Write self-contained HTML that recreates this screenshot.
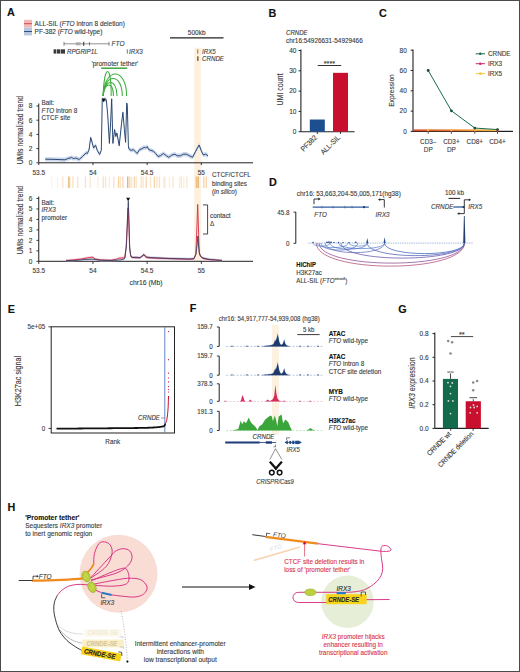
<!DOCTYPE html>
<html><head><meta charset="utf-8"><style>
html,body{margin:0;padding:0;background:#fff;}
body{width:520px;height:672px;overflow:hidden;}
svg{display:block;}
text{font-family:"Liberation Sans",sans-serif;}
</style></head><body>
<svg width="520" height="672" viewBox="0 0 520 672" font-family="Liberation Sans, sans-serif">
<rect x="0" y="0" width="520" height="672" fill="#fff"/>
<text transform="translate(7.00,16.30) scale(1.0000,1)" font-size="10.80" text-anchor="start" font-weight="bold" font-style="normal" fill="#111" stroke="#111" stroke-width="0.12" >A</text>
<rect x="24.00" y="19.80" width="8.00" height="7.80" fill="#f2b9b9" />
<line x1="24.00" y1="23.70" x2="32.00" y2="23.70" stroke="#d24a4a" stroke-width="1.0" />
<rect x="24.00" y="27.60" width="8.00" height="7.80" fill="#b9c6df" />
<line x1="24.00" y1="31.50" x2="32.00" y2="31.50" stroke="#2f4f80" stroke-width="1.0" />
<text transform="translate(34.60,25.80) scale(0.8929,1)" font-size="7.28" text-anchor="start" font-weight="normal" font-style="normal" fill="#3a3a3a" stroke="#3a3a3a" stroke-width="0.12" >ALL-SIL (<tspan font-style="italic">FTO</tspan> intron 8 deletion)</text>
<text transform="translate(34.60,33.80) scale(0.8929,1)" font-size="7.28" text-anchor="start" font-weight="normal" font-style="normal" fill="#3a3a3a" stroke="#3a3a3a" stroke-width="0.12" >PF-382 (<tspan font-style="italic">FTO</tspan> wild-type)</text>
<line x1="64.00" y1="43.80" x2="109.00" y2="43.80" stroke="#777" stroke-width="0.8" />
<line x1="64.00" y1="41.80" x2="64.00" y2="45.80" stroke="#666" stroke-width="0.8" />
<line x1="109.00" y1="41.80" x2="109.00" y2="45.80" stroke="#666" stroke-width="0.8" />
<rect x="75.80" y="42.30" width="4.80" height="3.00" fill="#aaa" />
<rect x="83.00" y="41.80" width="1.30" height="4.00" fill="#555" />
<rect x="89.00" y="42.20" width="0.90" height="3.20" fill="#666" />
<text transform="translate(111.50,46.30) scale(0.8929,1)" font-size="7.39" text-anchor="start" font-weight="normal" font-style="normal" fill="#3a3a3a" stroke="#3a3a3a" stroke-width="0.12" ><tspan font-style="italic">FTO</tspan></text>
<rect x="53.60" y="49.30" width="2.60" height="4.30" fill="#3a3a3a" />
<rect x="56.80" y="49.30" width="3.60" height="4.30" fill="#3a3a3a" />
<rect x="61.00" y="49.30" width="4.00" height="4.30" fill="#3a3a3a" />
<text transform="translate(67.00,54.00) scale(0.8929,1)" font-size="6.94" text-anchor="start" font-weight="normal" font-style="normal" fill="#3a3a3a" stroke="#3a3a3a" stroke-width="0.12" ><tspan font-style="italic">RPGRIP1L</tspan></text>
<line x1="127.30" y1="49.30" x2="127.30" y2="53.60" stroke="#555" stroke-width="0.8" />
<text transform="translate(129.00,54.00) scale(0.8929,1)" font-size="6.94" text-anchor="start" font-weight="normal" font-style="normal" fill="#3a3a3a" stroke="#3a3a3a" stroke-width="0.12" ><tspan font-style="italic">IRX3</tspan></text>
<text transform="translate(91.50,66.00) scale(0.8929,1)" font-size="7.28" text-anchor="start" font-weight="normal" font-style="normal" fill="#3a3a3a" stroke="#3a3a3a" stroke-width="0.12" >'promoter tether'</text>
<line x1="101.20" y1="68.20" x2="127.30" y2="68.20" stroke="#30a030" stroke-width="1.4" />
<path d="M103.1,96 C104.3,63.20 111.2,63.20 111.2,96" stroke="#3fae3f" stroke-width="1.05" fill="none" />
<path d="M103.1,96 C104.3,81.33 113.5,81.33 113.5,96" stroke="#3fae3f" stroke-width="1.05" fill="none" />
<path d="M103.1,96 C104.3,78.00 117,78.00 117,96" stroke="#3fae3f" stroke-width="1.05" fill="none" />
<path d="M103.1,96 C104.3,72.67 122.3,72.67 122.3,96" stroke="#3fae3f" stroke-width="1.05" fill="none" />
<path d="M103.1,96 C104.3,66.67 126.6,66.67 126.6,96" stroke="#3fae3f" stroke-width="1.05" fill="none" />
<text transform="translate(196.70,34.80) scale(0.8929,1)" font-size="7.28" text-anchor="middle" font-weight="normal" font-style="normal" fill="#3a3a3a" stroke="#3a3a3a" stroke-width="0.12" >500kb</text>
<line x1="170.00" y1="37.90" x2="223.50" y2="37.90" stroke="#222" stroke-width="1.1" />
<rect x="194.30" y="47.70" width="6.50" height="213.60" fill="#fdf0dc" />
<rect x="197.00" y="49.40" width="1.30" height="4.30" fill="#b58a5a" />
<rect x="197.00" y="56.30" width="1.60" height="4.60" fill="#8a6a4a" />
<text transform="translate(202.00,53.80) scale(0.8929,1)" font-size="6.94" text-anchor="start" font-weight="normal" font-style="normal" fill="#3a3a3a" stroke="#3a3a3a" stroke-width="0.12" ><tspan font-style="italic">IRX5</tspan></text>
<text transform="translate(202.00,61.00) scale(0.8929,1)" font-size="6.94" text-anchor="start" font-weight="normal" font-style="normal" fill="#3a3a3a" stroke="#3a3a3a" stroke-width="0.12" ><tspan font-style="italic">CRNDE</tspan></text>
<text transform="translate(23.00,130.20) rotate(-90) scale(0.8333,1)" font-size="8.16" text-anchor="middle" fill="#3a3a3a" stroke="#3a3a3a" stroke-width="0.12">UMIs normalized trend</text>
<text transform="translate(23.00,220.20) rotate(-90) scale(0.8333,1)" font-size="8.16" text-anchor="middle" fill="#3a3a3a" stroke="#3a3a3a" stroke-width="0.12">UMIs normalized trend</text>
<line x1="38.75" y1="103.50" x2="38.75" y2="162.80" stroke="#222" stroke-width="1.0" />
<line x1="36.45" y1="162.80" x2="38.75" y2="162.80" stroke="#222" stroke-width="0.9" />
<text transform="translate(32.45,165.10) scale(0.8929,1)" font-size="7.28" text-anchor="end" font-weight="normal" font-style="normal" fill="#3a3a3a" stroke="#3a3a3a" stroke-width="0.12" >0</text>
<line x1="36.45" y1="148.60" x2="38.75" y2="148.60" stroke="#222" stroke-width="0.9" />
<text transform="translate(32.45,150.90) scale(0.8929,1)" font-size="7.28" text-anchor="end" font-weight="normal" font-style="normal" fill="#3a3a3a" stroke="#3a3a3a" stroke-width="0.12" >2</text>
<line x1="36.45" y1="134.40" x2="38.75" y2="134.40" stroke="#222" stroke-width="0.9" />
<text transform="translate(32.45,136.70) scale(0.8929,1)" font-size="7.28" text-anchor="end" font-weight="normal" font-style="normal" fill="#3a3a3a" stroke="#3a3a3a" stroke-width="0.12" >4</text>
<line x1="36.45" y1="120.20" x2="38.75" y2="120.20" stroke="#222" stroke-width="0.9" />
<text transform="translate(32.45,122.50) scale(0.8929,1)" font-size="7.28" text-anchor="end" font-weight="normal" font-style="normal" fill="#3a3a3a" stroke="#3a3a3a" stroke-width="0.12" >6</text>
<line x1="36.45" y1="106.00" x2="38.75" y2="106.00" stroke="#222" stroke-width="0.9" />
<text transform="translate(32.45,108.30) scale(0.8929,1)" font-size="7.28" text-anchor="end" font-weight="normal" font-style="normal" fill="#3a3a3a" stroke="#3a3a3a" stroke-width="0.12" >8</text>
<line x1="38.75" y1="162.80" x2="253.00" y2="162.80" stroke="#222" stroke-width="1.0" />
<line x1="38.75" y1="162.80" x2="38.75" y2="165.10" stroke="#222" stroke-width="0.9" />
<text transform="translate(38.75,174.60) scale(0.8929,1)" font-size="7.28" text-anchor="middle" font-weight="normal" font-style="normal" fill="#3a3a3a" stroke="#3a3a3a" stroke-width="0.12" >53.5</text>
<line x1="92.95" y1="162.80" x2="92.95" y2="165.10" stroke="#222" stroke-width="0.9" />
<text transform="translate(92.95,174.60) scale(0.8929,1)" font-size="7.28" text-anchor="middle" font-weight="normal" font-style="normal" fill="#3a3a3a" stroke="#3a3a3a" stroke-width="0.12" >54</text>
<line x1="147.15" y1="162.80" x2="147.15" y2="165.10" stroke="#222" stroke-width="0.9" />
<text transform="translate(147.15,174.60) scale(0.8929,1)" font-size="7.28" text-anchor="middle" font-weight="normal" font-style="normal" fill="#3a3a3a" stroke="#3a3a3a" stroke-width="0.12" >54.5</text>
<line x1="201.35" y1="162.80" x2="201.35" y2="165.10" stroke="#222" stroke-width="0.9" />
<text transform="translate(201.35,174.60) scale(0.8929,1)" font-size="7.28" text-anchor="middle" font-weight="normal" font-style="normal" fill="#3a3a3a" stroke="#3a3a3a" stroke-width="0.12" >55</text>
<text transform="translate(41.50,104.80) scale(0.8929,1)" font-size="7.17" text-anchor="start" font-weight="normal" font-style="normal" fill="#3a3a3a" stroke="#3a3a3a" stroke-width="0.12" >Bait:</text>
<text transform="translate(41.50,112.50) scale(0.8929,1)" font-size="7.17" text-anchor="start" font-weight="normal" font-style="normal" fill="#3a3a3a" stroke="#3a3a3a" stroke-width="0.12" ><tspan font-style="italic">FTO</tspan> intron 8</text>
<text transform="translate(41.50,120.00) scale(0.8929,1)" font-size="7.17" text-anchor="start" font-weight="normal" font-style="normal" fill="#3a3a3a" stroke="#3a3a3a" stroke-width="0.12" >CTCF site</text>
<path d="M45.20,157.00 L55.00,157.20 L64.80,157.60 L67.70,156.40 L71.70,155.30 L73.40,156.40 L75.80,155.80 L79.20,157.30 L82.70,154.10 L86.10,150.70 L87.30,151.30 L89.00,147.80 L90.70,135.30 L92.10,140.10 L93.60,145.80 L95.60,143.00 L97.30,148.20 L99.60,152.20 L101.30,148.20 L101.90,117.80 L102.20,97.60 L106.30,97.60 L107.70,112.40 L109.40,141.20 L110.60,120.50 L111.70,96.60 L112.90,141.20 L114.60,127.40 L115.80,134.30 L116.90,130.80 L119.20,143.50 L121.50,121.60 L122.90,110.10 L124.40,127.40 L125.60,140.10 L126.70,100.80 L127.30,103.20 L128.40,143.50 L128.80,146.60 L131.10,148.20 L133.40,147.40 L134.90,149.00 L137.20,151.30 L139.50,147.40 L141.80,146.60 L144.20,145.10 L145.70,145.80 L147.20,144.30 L148.80,147.40 L151.10,148.20 L153.40,149.00 L155.70,151.30 L158.00,154.30 L160.30,153.60 L163.40,151.30 L166.50,153.60 L168.80,155.10 L171.80,152.80 L174.90,152.00 L177.20,153.60 L180.30,153.60 L183.40,152.00 L186.50,152.00 L189.50,153.60 L192.60,155.10 L195.70,149.00 L199.10,142.80 L201.80,149.70 L203.40,152.80 L205.70,152.00 L208.00,153.60 L208.00,158.00 L205.70,156.40 L203.40,157.20 L201.80,154.10 L199.10,147.20 L195.70,153.40 L192.60,159.50 L189.50,158.00 L186.50,156.40 L183.40,156.40 L180.30,158.00 L177.20,158.00 L174.90,156.40 L171.80,157.20 L168.80,159.50 L166.50,158.00 L163.40,155.70 L160.30,158.00 L158.00,158.70 L155.70,155.70 L153.40,153.40 L151.10,152.60 L148.80,151.80 L147.20,148.70 L145.70,150.20 L144.20,149.50 L141.80,151.00 L139.50,151.80 L137.20,155.70 L134.90,153.40 L133.40,151.80 L131.10,152.60 L128.80,151.00 L128.40,147.90 L127.30,107.60 L126.70,105.20 L125.60,144.50 L124.40,131.80 L122.90,114.50 L121.50,126.00 L119.20,147.90 L116.90,135.20 L115.80,138.70 L114.60,131.80 L112.90,145.60 L111.70,101.00 L110.60,124.90 L109.40,145.60 L107.70,116.80 L106.30,102.00 L102.20,102.00 L101.90,122.20 L101.30,152.60 L99.60,156.60 L97.30,152.60 L95.60,147.40 L93.60,150.20 L92.10,144.50 L90.70,139.70 L89.00,152.20 L87.30,155.70 L86.10,155.10 L82.70,158.50 L79.20,161.70 L75.80,160.20 L73.40,160.80 L71.70,159.70 L67.70,160.80 L64.80,162.00 L55.00,161.60 L45.20,161.40 Z" stroke="none" stroke-width="1" fill="#c4d4ea" opacity="0.85"/>
<polyline points="45.20,159.20 55.00,159.40 64.80,159.80 67.70,158.60 71.70,157.50 73.40,158.60 75.80,158.00 79.20,159.50 82.70,156.30 86.10,152.90 87.30,153.50 89.00,150.00 90.70,137.50 92.10,142.30 93.60,148.00 95.60,145.20 97.30,150.40 99.60,154.40 101.30,150.40 101.90,120.00 102.20,99.80 106.30,99.80 107.70,114.60 109.40,143.40 110.60,122.70 111.70,98.80 112.90,143.40 114.60,129.60 115.80,136.50 116.90,133.00 119.20,145.70 121.50,123.80 122.90,112.30 124.40,129.60 125.60,142.30 126.70,103.00 127.30,105.40 128.40,145.70 128.80,148.80 131.10,150.40 133.40,149.60 134.90,151.20 137.20,153.50 139.50,149.60 141.80,148.80 144.20,147.30 145.70,148.00 147.20,146.50 148.80,149.60 151.10,150.40 153.40,151.20 155.70,153.50 158.00,156.50 160.30,155.80 163.40,153.50 166.50,155.80 168.80,157.30 171.80,155.00 174.90,154.20 177.20,155.80 180.30,155.80 183.40,154.20 186.50,154.20 189.50,155.80 192.60,157.30 195.70,151.20 199.10,145.00 201.80,151.90 203.40,155.00 205.70,154.20 208.00,155.80" fill="none" stroke="#24406c" stroke-width="0.95" stroke-linejoin="round" />
<path d="M101.4,98.4 L105.8,98.4 L103.6,102.3 Z" stroke="none" stroke-width="1" fill="#111" />
<rect x="51.00" y="176.50" width="1.40" height="11.50" fill="#f0b060" opacity="0.15"/>
<rect x="56.80" y="176.50" width="1.40" height="11.50" fill="#f0b060" opacity="0.15"/>
<rect x="62.10" y="176.50" width="1.40" height="11.50" fill="#f3a87a" opacity="0.30"/>
<rect x="67.90" y="176.50" width="1.40" height="11.50" fill="#d89440" opacity="0.55"/>
<rect x="68.90" y="176.50" width="1.40" height="11.50" fill="#f0b060" opacity="0.50"/>
<rect x="72.20" y="176.50" width="1.40" height="11.50" fill="#f4c46a" opacity="0.45"/>
<rect x="77.00" y="176.50" width="1.40" height="11.50" fill="#d89440" opacity="0.25"/>
<rect x="84.70" y="176.50" width="1.40" height="11.50" fill="#f3a87a" opacity="0.35"/>
<rect x="89.50" y="176.50" width="1.40" height="11.50" fill="#f0b060" opacity="0.30"/>
<rect x="97.20" y="176.50" width="1.40" height="11.50" fill="#f0b060" opacity="0.20"/>
<rect x="102.50" y="176.50" width="1.40" height="11.50" fill="#d89440" opacity="0.25"/>
<rect x="104.90" y="176.50" width="1.40" height="11.50" fill="#f0b060" opacity="0.30"/>
<rect x="108.70" y="176.50" width="1.40" height="11.50" fill="#f0b060" opacity="0.20"/>
<rect x="113.10" y="176.50" width="1.40" height="11.50" fill="#f3a87a" opacity="0.35"/>
<rect x="117.90" y="176.50" width="1.40" height="11.50" fill="#f0b060" opacity="0.55"/>
<rect x="119.80" y="176.50" width="1.40" height="11.50" fill="#f4c46a" opacity="0.40"/>
<rect x="122.20" y="176.50" width="1.40" height="11.50" fill="#f3a87a" opacity="0.45"/>
<rect x="127.00" y="176.50" width="1.40" height="11.50" fill="#d89440" opacity="0.70"/>
<rect x="128.90" y="176.50" width="1.40" height="11.50" fill="#f0b060" opacity="0.45"/>
<rect x="130.80" y="176.50" width="1.40" height="11.50" fill="#f0b060" opacity="0.30"/>
<rect x="133.70" y="176.50" width="1.40" height="11.50" fill="#f0b060" opacity="0.50"/>
<rect x="135.60" y="176.50" width="1.40" height="11.50" fill="#f0b060" opacity="0.30"/>
<rect x="140.50" y="176.50" width="1.40" height="11.50" fill="#f4c46a" opacity="0.45"/>
<rect x="142.40" y="176.50" width="1.40" height="11.50" fill="#f0b060" opacity="0.30"/>
<rect x="145.60" y="176.50" width="1.40" height="11.50" fill="#f2a04a" opacity="0.40"/>
<rect x="149.90" y="176.50" width="1.40" height="11.50" fill="#f0b060" opacity="0.30"/>
<rect x="153.70" y="176.50" width="1.40" height="11.50" fill="#f0b060" opacity="0.50"/>
<rect x="156.20" y="176.50" width="1.40" height="11.50" fill="#f0b060" opacity="0.30"/>
<rect x="158.70" y="176.50" width="1.40" height="11.50" fill="#f0b060" opacity="0.35"/>
<rect x="163.10" y="176.50" width="1.40" height="11.50" fill="#f0b060" opacity="0.20"/>
<rect x="164.30" y="176.50" width="1.40" height="11.50" fill="#f0b060" opacity="0.25"/>
<rect x="168.70" y="176.50" width="1.40" height="11.50" fill="#f0b060" opacity="0.20"/>
<rect x="172.40" y="176.50" width="1.40" height="11.50" fill="#f0b060" opacity="0.30"/>
<rect x="178.70" y="176.50" width="1.40" height="11.50" fill="#f0b060" opacity="0.20"/>
<rect x="180.60" y="176.50" width="1.40" height="11.50" fill="#f0b060" opacity="0.30"/>
<rect x="183.10" y="176.50" width="1.40" height="11.50" fill="#f0b060" opacity="0.20"/>
<rect x="186.20" y="176.50" width="1.40" height="11.50" fill="#f0b060" opacity="0.30"/>
<rect x="195.60" y="176.50" width="1.40" height="11.50" fill="#f2a04a" opacity="0.60"/>
<rect x="197.40" y="176.50" width="1.40" height="11.50" fill="#d89440" opacity="0.70"/>
<rect x="203.10" y="176.50" width="1.40" height="11.50" fill="#f2a04a" opacity="0.45"/>
<rect x="205.60" y="176.50" width="1.40" height="11.50" fill="#f2a04a" opacity="0.45"/>
<text transform="translate(212.00,177.20) scale(0.8929,1)" font-size="7.06" text-anchor="start" font-weight="normal" font-style="normal" fill="#3a3a3a" stroke="#3a3a3a" stroke-width="0.12" >CTCF/CTCFL</text>
<text transform="translate(212.00,185.70) scale(0.8929,1)" font-size="7.06" text-anchor="start" font-weight="normal" font-style="normal" fill="#3a3a3a" stroke="#3a3a3a" stroke-width="0.12" >binding sites</text>
<text transform="translate(212.00,194.20) scale(0.8929,1)" font-size="7.06" text-anchor="start" font-weight="normal" font-style="normal" fill="#3a3a3a" stroke="#3a3a3a" stroke-width="0.12" >(<tspan font-style="italic">in silico</tspan>)</text>
<line x1="38.75" y1="196.50" x2="38.75" y2="261.30" stroke="#222" stroke-width="1.0" />
<line x1="36.45" y1="261.30" x2="38.75" y2="261.30" stroke="#222" stroke-width="0.9" />
<text transform="translate(32.45,263.60) scale(0.8929,1)" font-size="7.28" text-anchor="end" font-weight="normal" font-style="normal" fill="#3a3a3a" stroke="#3a3a3a" stroke-width="0.12" >0</text>
<line x1="36.45" y1="250.83" x2="38.75" y2="250.83" stroke="#222" stroke-width="0.9" />
<text transform="translate(32.45,253.13) scale(0.8929,1)" font-size="7.28" text-anchor="end" font-weight="normal" font-style="normal" fill="#3a3a3a" stroke="#3a3a3a" stroke-width="0.12" >1</text>
<line x1="36.45" y1="240.36" x2="38.75" y2="240.36" stroke="#222" stroke-width="0.9" />
<text transform="translate(32.45,242.66) scale(0.8929,1)" font-size="7.28" text-anchor="end" font-weight="normal" font-style="normal" fill="#3a3a3a" stroke="#3a3a3a" stroke-width="0.12" >2</text>
<line x1="36.45" y1="229.89" x2="38.75" y2="229.89" stroke="#222" stroke-width="0.9" />
<text transform="translate(32.45,232.19) scale(0.8929,1)" font-size="7.28" text-anchor="end" font-weight="normal" font-style="normal" fill="#3a3a3a" stroke="#3a3a3a" stroke-width="0.12" >3</text>
<line x1="36.45" y1="219.42" x2="38.75" y2="219.42" stroke="#222" stroke-width="0.9" />
<text transform="translate(32.45,221.72) scale(0.8929,1)" font-size="7.28" text-anchor="end" font-weight="normal" font-style="normal" fill="#3a3a3a" stroke="#3a3a3a" stroke-width="0.12" >4</text>
<line x1="36.45" y1="208.95" x2="38.75" y2="208.95" stroke="#222" stroke-width="0.9" />
<text transform="translate(32.45,211.25) scale(0.8929,1)" font-size="7.28" text-anchor="end" font-weight="normal" font-style="normal" fill="#3a3a3a" stroke="#3a3a3a" stroke-width="0.12" >5</text>
<line x1="36.45" y1="198.48" x2="38.75" y2="198.48" stroke="#222" stroke-width="0.9" />
<text transform="translate(32.45,200.78) scale(0.8929,1)" font-size="7.28" text-anchor="end" font-weight="normal" font-style="normal" fill="#3a3a3a" stroke="#3a3a3a" stroke-width="0.12" >6</text>
<line x1="38.75" y1="261.30" x2="253.00" y2="261.30" stroke="#222" stroke-width="1.0" />
<line x1="38.75" y1="261.30" x2="38.75" y2="263.90" stroke="#222" stroke-width="0.9" />
<text transform="translate(38.75,273.30) scale(0.8929,1)" font-size="7.28" text-anchor="middle" font-weight="normal" font-style="normal" fill="#3a3a3a" stroke="#3a3a3a" stroke-width="0.12" >53.5</text>
<line x1="92.95" y1="261.30" x2="92.95" y2="263.90" stroke="#222" stroke-width="0.9" />
<text transform="translate(92.95,273.30) scale(0.8929,1)" font-size="7.28" text-anchor="middle" font-weight="normal" font-style="normal" fill="#3a3a3a" stroke="#3a3a3a" stroke-width="0.12" >54</text>
<line x1="147.15" y1="261.30" x2="147.15" y2="263.90" stroke="#222" stroke-width="0.9" />
<text transform="translate(147.15,273.30) scale(0.8929,1)" font-size="7.28" text-anchor="middle" font-weight="normal" font-style="normal" fill="#3a3a3a" stroke="#3a3a3a" stroke-width="0.12" >54.5</text>
<line x1="201.35" y1="261.30" x2="201.35" y2="263.90" stroke="#222" stroke-width="0.9" />
<text transform="translate(201.35,273.30) scale(0.8929,1)" font-size="7.28" text-anchor="middle" font-weight="normal" font-style="normal" fill="#3a3a3a" stroke="#3a3a3a" stroke-width="0.12" >55</text>
<text transform="translate(146.00,284.60) scale(0.8929,1)" font-size="7.62" text-anchor="middle" font-weight="normal" font-style="normal" fill="#3a3a3a" stroke="#3a3a3a" stroke-width="0.12" >chr16 (Mb)</text>
<text transform="translate(41.50,204.50) scale(0.8929,1)" font-size="7.17" text-anchor="start" font-weight="normal" font-style="normal" fill="#3a3a3a" stroke="#3a3a3a" stroke-width="0.12" >Bait:</text>
<text transform="translate(41.50,212.00) scale(0.8929,1)" font-size="7.17" text-anchor="start" font-weight="normal" font-style="normal" fill="#3a3a3a" stroke="#3a3a3a" stroke-width="0.12" ><tspan font-style="italic">IRX3</tspan></text>
<text transform="translate(41.50,219.50) scale(0.8929,1)" font-size="7.17" text-anchor="start" font-weight="normal" font-style="normal" fill="#3a3a3a" stroke="#3a3a3a" stroke-width="0.12" >promoter</text>
<path d="M66.00,259.30 L73.50,258.60 L81.50,257.70 L87.00,256.60 L90.00,256.20 L93.00,255.90 L95.00,257.70 L100.40,258.60 L111.00,259.00 L116.50,257.90 L119.20,256.80 L124.60,256.60 L126.00,247.20 L127.30,223.70 L128.10,206.70 L128.90,223.70 L129.60,247.70 L131.00,255.70 L135.00,256.50 L140.00,256.50 L144.00,253.50 L146.00,256.20 L150.00,256.70 L160.00,257.00 L170.00,257.30 L180.00,257.70 L190.00,257.90 L194.00,257.50 L195.80,252.70 L196.80,228.70 L197.70,203.10 L198.50,228.70 L199.20,250.70 L200.50,255.20 L203.00,257.20 L208.00,258.20 L215.00,258.70 L222.00,259.20 L222.00,261.30 L215.00,261.30 L208.00,260.80 L203.00,259.80 L200.50,257.80 L199.20,253.30 L198.50,231.30 L197.70,205.70 L196.80,231.30 L195.80,255.30 L194.00,260.10 L190.00,260.50 L180.00,260.30 L170.00,259.90 L160.00,259.60 L150.00,259.30 L146.00,258.80 L144.00,256.10 L140.00,259.10 L135.00,259.10 L131.00,258.30 L129.60,250.30 L128.90,226.30 L128.10,209.30 L127.30,226.30 L126.00,249.80 L124.60,259.20 L119.20,259.40 L116.50,260.50 L111.00,261.30 L100.40,261.20 L95.00,260.30 L93.00,258.50 L90.00,258.80 L87.00,259.20 L81.50,260.30 L73.50,261.20 L66.00,261.30 Z" stroke="none" stroke-width="1" fill="#f3bcc3" opacity="0.7"/>
<path d="M66.00,259.40 L75.00,259.20 L85.00,258.20 L93.00,257.90 L100.00,259.00 L110.00,259.20 L118.00,258.90 L123.00,258.20 L125.00,256.70 L126.50,243.70 L127.60,213.70 L128.30,200.00 L129.00,218.70 L129.60,243.70 L130.50,253.70 L132.00,256.20 L136.00,255.90 L140.00,256.50 L144.00,253.10 L146.50,255.70 L150.00,256.20 L160.00,256.70 L170.00,257.20 L180.00,257.40 L190.00,257.70 L194.00,257.30 L196.00,252.70 L197.20,242.70 L197.90,234.70 L198.60,244.70 L199.50,252.70 L200.50,254.50 L202.00,256.20 L205.00,257.20 L210.00,258.20 L222.00,259.20 L222.00,261.30 L210.00,260.80 L205.00,259.80 L202.00,258.80 L200.50,257.10 L199.50,255.30 L198.60,247.30 L197.90,237.30 L197.20,245.30 L196.00,255.30 L194.00,259.90 L190.00,260.30 L180.00,260.00 L170.00,259.80 L160.00,259.30 L150.00,258.80 L146.50,258.30 L144.00,255.70 L140.00,259.10 L136.00,258.50 L132.00,258.80 L130.50,256.30 L129.60,246.30 L129.00,221.30 L128.30,202.60 L127.60,216.30 L126.50,246.30 L125.00,259.30 L123.00,260.80 L118.00,261.30 L110.00,261.30 L100.00,261.30 L93.00,260.50 L85.00,260.80 L75.00,261.30 L66.00,261.30 Z" stroke="none" stroke-width="1" fill="#b9c6df" opacity="0.6"/>
<polyline points="66.00,260.60 73.50,259.90 81.50,259.00 87.00,257.90 90.00,257.50 93.00,257.20 95.00,259.00 100.40,259.90 111.00,260.30 116.50,259.20 119.20,258.10 124.60,257.90 126.00,248.50 127.30,225.00 128.10,208.00 128.90,225.00 129.60,249.00 131.00,257.00 135.00,257.80 140.00,257.80 144.00,254.80 146.00,257.50 150.00,258.00 160.00,258.30 170.00,258.60 180.00,259.00 190.00,259.20 194.00,258.80 195.80,254.00 196.80,230.00 197.70,204.40 198.50,230.00 199.20,252.00 200.50,256.50 203.00,258.50 208.00,259.50 215.00,260.00 222.00,260.50" fill="none" stroke="#d22b45" stroke-width="0.9" stroke-linejoin="round" />
<polyline points="66.00,260.70 75.00,260.50 85.00,259.50 93.00,259.20 100.00,260.30 110.00,260.50 118.00,260.20 123.00,259.50 125.00,258.00 126.50,245.00 127.60,215.00 128.30,201.30 129.00,220.00 129.60,245.00 130.50,255.00 132.00,257.50 136.00,257.20 140.00,257.80 144.00,254.40 146.50,257.00 150.00,257.50 160.00,258.00 170.00,258.50 180.00,258.70 190.00,259.00 194.00,258.60 196.00,254.00 197.20,244.00 197.90,236.00 198.60,246.00 199.50,254.00 200.50,255.80 202.00,257.50 205.00,258.50 210.00,259.50 222.00,260.50" fill="none" stroke="#2d3560" stroke-width="0.9" stroke-linejoin="round" opacity="0.9"/>
<path d="M126.2,197.7 L130.1,197.7 L128.15,201.6 Z" stroke="none" stroke-width="1" fill="#111" />
<path d="M203,204.9 L207.6,204.9 L207.6,234 L203,234" stroke="#333" stroke-width="0.9" fill="none" />
<text transform="translate(210.00,217.80) scale(0.8929,1)" font-size="7.17" text-anchor="start" font-weight="normal" font-style="normal" fill="#3a3a3a" stroke="#3a3a3a" stroke-width="0.12" >contact</text>
<text transform="translate(210.00,226.30) scale(0.8929,1)" font-size="7.17" text-anchor="start" font-weight="normal" font-style="normal" fill="#3a3a3a" stroke="#3a3a3a" stroke-width="0.12" >Δ</text>
<text transform="translate(268.50,16.80) scale(1.0000,1)" font-size="10.80" text-anchor="start" font-weight="bold" font-style="normal" fill="#111" stroke="#111" stroke-width="0.12" >B</text>
<text transform="translate(286.00,35.00) scale(0.8929,1)" font-size="6.83" text-anchor="start" font-weight="normal" font-style="normal" fill="#3a3a3a" stroke="#3a3a3a" stroke-width="0.12" ><tspan font-style="italic">CRNDE</tspan></text>
<text transform="translate(286.00,43.20) scale(0.8929,1)" font-size="7.17" text-anchor="start" font-weight="normal" font-style="normal" fill="#3a3a3a" stroke="#3a3a3a" stroke-width="0.12" >chr16:54926631-54929466</text>
<line x1="300.90" y1="49.50" x2="300.90" y2="131.70" stroke="#222" stroke-width="1.1" />
<line x1="298.60" y1="131.70" x2="300.90" y2="131.70" stroke="#222" stroke-width="1" />
<text transform="translate(296.40,134.00) scale(0.8929,1)" font-size="7.28" text-anchor="end" font-weight="normal" font-style="normal" fill="#3a3a3a" stroke="#3a3a3a" stroke-width="0.12" >0</text>
<line x1="298.60" y1="111.40" x2="300.90" y2="111.40" stroke="#222" stroke-width="1" />
<text transform="translate(296.40,113.70) scale(0.8929,1)" font-size="7.28" text-anchor="end" font-weight="normal" font-style="normal" fill="#3a3a3a" stroke="#3a3a3a" stroke-width="0.12" >10</text>
<line x1="298.60" y1="91.10" x2="300.90" y2="91.10" stroke="#222" stroke-width="1" />
<text transform="translate(296.40,93.40) scale(0.8929,1)" font-size="7.28" text-anchor="end" font-weight="normal" font-style="normal" fill="#3a3a3a" stroke="#3a3a3a" stroke-width="0.12" >20</text>
<line x1="298.60" y1="70.80" x2="300.90" y2="70.80" stroke="#222" stroke-width="1" />
<text transform="translate(296.40,73.10) scale(0.8929,1)" font-size="7.28" text-anchor="end" font-weight="normal" font-style="normal" fill="#3a3a3a" stroke="#3a3a3a" stroke-width="0.12" >30</text>
<line x1="298.60" y1="50.50" x2="300.90" y2="50.50" stroke="#222" stroke-width="1" />
<text transform="translate(296.40,52.80) scale(0.8929,1)" font-size="7.28" text-anchor="end" font-weight="normal" font-style="normal" fill="#3a3a3a" stroke="#3a3a3a" stroke-width="0.12" >40</text>
<line x1="300.90" y1="131.70" x2="354.60" y2="131.70" stroke="#222" stroke-width="1.1" />
<rect x="309.80" y="119.52" width="15.00" height="12.18" fill="#1d4e8f" />
<rect x="333.00" y="72.83" width="15.00" height="58.87" fill="#c8102e" />
<line x1="317.30" y1="131.70" x2="317.30" y2="134.00" stroke="#222" stroke-width="0.9" />
<line x1="340.50" y1="131.70" x2="340.50" y2="134.00" stroke="#222" stroke-width="0.9" />
<line x1="317.70" y1="65.50" x2="341.20" y2="65.50" stroke="#333" stroke-width="1.0" />
<text transform="translate(329.40,65.60) scale(1.0000,1)" font-size="7.20" text-anchor="middle" font-weight="normal" font-style="normal" fill="#3a3a3a" stroke="#3a3a3a" stroke-width="0.12" >****</text>
<text transform="translate(283.00,89.50) rotate(-90) scale(0.8333,1)" font-size="8.40" text-anchor="middle" fill="#3a3a3a" stroke="#3a3a3a" stroke-width="0.12">UMI count</text>
<text transform="translate(317.60,138.00) rotate(-45) scale(0.8929,1)" font-size="7.50" text-anchor="end" fill="#3a3a3a" stroke="#3a3a3a" stroke-width="0.12">PF382</text>
<text transform="translate(340.60,138.00) rotate(-45) scale(0.8929,1)" font-size="7.50" text-anchor="end" fill="#3a3a3a" stroke="#3a3a3a" stroke-width="0.12">ALL-SIL</text>
<text transform="translate(379.00,16.60) scale(1.0000,1)" font-size="10.80" text-anchor="start" font-weight="bold" font-style="normal" fill="#111" stroke="#111" stroke-width="0.12" >C</text>
<line x1="413.00" y1="49.50" x2="413.00" y2="131.40" stroke="#222" stroke-width="1.1" />
<line x1="410.70" y1="131.40" x2="413.00" y2="131.40" stroke="#222" stroke-width="1" />
<text transform="translate(406.80,133.70) scale(0.8929,1)" font-size="7.28" text-anchor="end" font-weight="normal" font-style="normal" fill="#3a3a3a" stroke="#3a3a3a" stroke-width="0.12" >0</text>
<line x1="410.70" y1="111.10" x2="413.00" y2="111.10" stroke="#222" stroke-width="1" />
<text transform="translate(406.80,113.40) scale(0.8929,1)" font-size="7.28" text-anchor="end" font-weight="normal" font-style="normal" fill="#3a3a3a" stroke="#3a3a3a" stroke-width="0.12" >20</text>
<line x1="410.70" y1="90.80" x2="413.00" y2="90.80" stroke="#222" stroke-width="1" />
<text transform="translate(406.80,93.10) scale(0.8929,1)" font-size="7.28" text-anchor="end" font-weight="normal" font-style="normal" fill="#3a3a3a" stroke="#3a3a3a" stroke-width="0.12" >40</text>
<line x1="410.70" y1="70.50" x2="413.00" y2="70.50" stroke="#222" stroke-width="1" />
<text transform="translate(406.80,72.80) scale(0.8929,1)" font-size="7.28" text-anchor="end" font-weight="normal" font-style="normal" fill="#3a3a3a" stroke="#3a3a3a" stroke-width="0.12" >60</text>
<line x1="410.70" y1="50.20" x2="413.00" y2="50.20" stroke="#222" stroke-width="1" />
<text transform="translate(406.80,52.50) scale(0.8929,1)" font-size="7.28" text-anchor="end" font-weight="normal" font-style="normal" fill="#3a3a3a" stroke="#3a3a3a" stroke-width="0.12" >80</text>
<line x1="413.00" y1="131.40" x2="513.00" y2="131.40" stroke="#222" stroke-width="1.1" />
<line x1="428.20" y1="131.40" x2="428.20" y2="133.70" stroke="#222" stroke-width="0.9" />
<line x1="451.40" y1="131.40" x2="451.40" y2="133.70" stroke="#222" stroke-width="0.9" />
<line x1="474.80" y1="131.40" x2="474.80" y2="133.70" stroke="#222" stroke-width="0.9" />
<line x1="497.50" y1="131.40" x2="497.50" y2="133.70" stroke="#222" stroke-width="0.9" />
<text transform="translate(394.30,90.50) rotate(-90) scale(0.8333,1)" font-size="7.92" text-anchor="middle" fill="#3a3a3a" stroke="#3a3a3a" stroke-width="0.12">Expression</text>
<text transform="translate(428.20,144.00) scale(0.8929,1)" font-size="7.17" text-anchor="middle" font-weight="normal" font-style="normal" fill="#3a3a3a" stroke="#3a3a3a" stroke-width="0.12" >CD3–</text>
<text transform="translate(428.20,151.60) scale(0.8929,1)" font-size="7.17" text-anchor="middle" font-weight="normal" font-style="normal" fill="#3a3a3a" stroke="#3a3a3a" stroke-width="0.12" >DP</text>
<text transform="translate(451.40,144.00) scale(0.8929,1)" font-size="7.17" text-anchor="middle" font-weight="normal" font-style="normal" fill="#3a3a3a" stroke="#3a3a3a" stroke-width="0.12" >CD3+</text>
<text transform="translate(451.40,151.60) scale(0.8929,1)" font-size="7.17" text-anchor="middle" font-weight="normal" font-style="normal" fill="#3a3a3a" stroke="#3a3a3a" stroke-width="0.12" >DP</text>
<text transform="translate(474.80,144.00) scale(0.8929,1)" font-size="7.17" text-anchor="middle" font-weight="normal" font-style="normal" fill="#3a3a3a" stroke="#3a3a3a" stroke-width="0.12" >CD8+</text>
<text transform="translate(497.50,144.00) scale(0.8929,1)" font-size="7.17" text-anchor="middle" font-weight="normal" font-style="normal" fill="#3a3a3a" stroke="#3a3a3a" stroke-width="0.12" >CD4+</text>
<defs><linearGradient id="cbase" x1="0" x2="1" y1="0" y2="0"><stop offset="0" stop-color="#d9482a"/><stop offset="0.45" stop-color="#e8782a"/><stop offset="1" stop-color="#f2c040"/></linearGradient></defs>
<rect x="413.00" y="129.40" width="84.50" height="1.80" fill="url(#cbase)" />
<circle cx="428.2" cy="130.60" r="1.2" fill="#d6246e"/>
<circle cx="451.4" cy="130.60" r="1.2" fill="#d6246e"/>
<circle cx="474.8" cy="130.60" r="1.2" fill="#d6246e"/>
<circle cx="497.5" cy="130.60" r="1.2" fill="#d6246e"/>
<circle cx="428.2" cy="129.99" r="1.2" fill="#f5c53a"/>
<circle cx="451.4" cy="129.99" r="1.2" fill="#f5c53a"/>
<circle cx="474.8" cy="129.99" r="1.2" fill="#f5c53a"/>
<circle cx="497.5" cy="129.99" r="1.2" fill="#f5c53a"/>
<polyline points="428.20,70.50 451.40,110.80 474.80,128.05 497.50,129.57" fill="none" stroke="#1b6a50" stroke-width="1.0" stroke-linejoin="round" />
<circle cx="428.2" cy="70.50" r="1.4" fill="#1b4a3a"/>
<circle cx="451.4" cy="110.80" r="1.4" fill="#1b4a3a"/>
<circle cx="474.8" cy="128.05" r="1.4" fill="#1b4a3a"/>
<circle cx="497.5" cy="129.57" r="1.4" fill="#1b4a3a"/>
<line x1="475.70" y1="53.80" x2="485.00" y2="53.80" stroke="#1b6a50" stroke-width="1.0" />
<circle cx="480.3" cy="53.8" r="1.3" fill="#1b6a50"/>
<text transform="translate(487.90,56.10) scale(0.8929,1)" font-size="7.17" text-anchor="start" font-weight="normal" font-style="normal" fill="#3a3a3a" stroke="#3a3a3a" stroke-width="0.12" >CRNDE</text>
<line x1="475.70" y1="63.70" x2="485.00" y2="63.70" stroke="#d6246e" stroke-width="1.0" />
<circle cx="480.3" cy="63.699999999999996" r="1.3" fill="#d6246e"/>
<text transform="translate(487.90,66.00) scale(0.8929,1)" font-size="7.17" text-anchor="start" font-weight="normal" font-style="normal" fill="#3a3a3a" stroke="#3a3a3a" stroke-width="0.12" >IRX3</text>
<line x1="475.70" y1="73.60" x2="485.00" y2="73.60" stroke="#f5c53a" stroke-width="1.0" />
<circle cx="480.3" cy="73.6" r="1.3" fill="#f5c53a"/>
<text transform="translate(487.90,75.90) scale(0.8929,1)" font-size="7.17" text-anchor="start" font-weight="normal" font-style="normal" fill="#3a3a3a" stroke="#3a3a3a" stroke-width="0.12" >IRX5</text>
<text transform="translate(269.00,186.40) scale(1.0000,1)" font-size="10.80" text-anchor="start" font-weight="bold" font-style="normal" fill="#111" stroke="#111" stroke-width="0.12" >D</text>
<text transform="translate(296.70,195.70) scale(0.8929,1)" font-size="7.17" text-anchor="start" font-weight="normal" font-style="normal" fill="#3a3a3a" stroke="#3a3a3a" stroke-width="0.12" >chr16: 53,663,204-55,005,171(hg38)</text>
<line x1="312.70" y1="207.10" x2="368.80" y2="207.10" stroke="#2f5d9e" stroke-width="1.3" />
<line x1="322.00" y1="205.80" x2="322.00" y2="208.40" stroke="#2f5d9e" stroke-width="0.6" />
<line x1="333.00" y1="205.80" x2="333.00" y2="208.40" stroke="#2f5d9e" stroke-width="0.6" />
<line x1="345.00" y1="205.80" x2="345.00" y2="208.40" stroke="#2f5d9e" stroke-width="0.6" />
<line x1="352.00" y1="205.80" x2="352.00" y2="208.40" stroke="#2f5d9e" stroke-width="0.6" />
<circle cx="364" cy="207.1" r="1.2" fill="#1f3f70"/>
<path d="M314,204.2 L314,199 L319,199" stroke="#222" stroke-width="0.9" fill="none" />
<path d="M318.4,197.6 L320.6,199 L318.4,200.4 Z" stroke="none" stroke-width="1" fill="#222" />
<text transform="translate(314.30,216.90) scale(0.8929,1)" font-size="7.06" text-anchor="start" font-weight="normal" font-style="normal" fill="#3a3a3a" stroke="#3a3a3a" stroke-width="0.12" ><tspan font-style="italic">FTO</tspan></text>
<path d="M384.3,207.5 L384.3,199.6 L379.4,199.6" stroke="#222" stroke-width="0.9" fill="none" />
<path d="M380.2,198.2 L378,199.6 L380.2,201 Z" stroke="none" stroke-width="1" fill="#222" />
<text transform="translate(375.60,217.00) scale(0.8929,1)" font-size="7.06" text-anchor="start" font-weight="normal" font-style="normal" fill="#3a3a3a" stroke="#3a3a3a" stroke-width="0.12" ><tspan font-style="italic">IRX3</tspan></text>
<text transform="translate(454.50,194.80) scale(0.8929,1)" font-size="7.06" text-anchor="middle" font-weight="normal" font-style="normal" fill="#3a3a3a" stroke="#3a3a3a" stroke-width="0.12" >100 kb</text>
<line x1="448.50" y1="198.40" x2="460.20" y2="198.40" stroke="#222" stroke-width="1.0" />
<text transform="translate(431.00,208.70) scale(0.8929,1)" font-size="7.06" text-anchor="start" font-weight="normal" font-style="normal" fill="#3a3a3a" stroke="#3a3a3a" stroke-width="0.12" ><tspan font-style="italic">CRNDE</tspan></text>
<line x1="453.30" y1="207.00" x2="464.30" y2="207.00" stroke="#2f5d9e" stroke-width="1.3" />
<circle cx="463.4" cy="207" r="1.1" fill="#1f3f70"/>
<path d="M464.3,207 L464.3,199.8 L469.6,199.8" stroke="#222" stroke-width="0.9" fill="none" />
<path d="M468.8,198.4 L471,199.8 L468.8,201.2 Z" stroke="none" stroke-width="1" fill="#222" />
<path d="M464.3,207 L464.3,213.6 L458.6,213.6" stroke="#222" stroke-width="0.9" fill="none" />
<path d="M459.4,212.2 L457.2,213.6 L459.4,215 Z" stroke="none" stroke-width="1" fill="#222" />
<text transform="translate(468.20,208.70) scale(0.8929,1)" font-size="7.06" text-anchor="start" font-weight="normal" font-style="normal" fill="#3a3a3a" stroke="#3a3a3a" stroke-width="0.12" ><tspan font-style="italic">IRX5</tspan></text>
<line x1="295.80" y1="212.00" x2="295.80" y2="243.40" stroke="#222" stroke-width="1.0" />
<line x1="293.50" y1="212.10" x2="295.80" y2="212.10" stroke="#222" stroke-width="0.9" />
<line x1="293.50" y1="243.30" x2="295.80" y2="243.30" stroke="#222" stroke-width="0.9" />
<text transform="translate(289.40,214.50) scale(0.8929,1)" font-size="7.06" text-anchor="end" font-weight="normal" font-style="normal" fill="#3a3a3a" stroke="#3a3a3a" stroke-width="0.12" >45.8</text>
<text transform="translate(289.60,245.60) scale(0.8929,1)" font-size="7.06" text-anchor="end" font-weight="normal" font-style="normal" fill="#3a3a3a" stroke="#3a3a3a" stroke-width="0.12" >0</text>
<line x1="307.90" y1="243.10" x2="473.00" y2="243.10" stroke="#9db7dd" stroke-width="0.9" stroke-dasharray="1.5,0.8"/>
<path d="M316.3,243.1 C316.3,273.8 464.4,273.8 464.4,243.1" stroke="#b2557e" stroke-width="0.8" fill="none" />
<path d="M319.2,243.1 C319.2,269.8 464.4,269.8 464.4,243.1" stroke="#95509c" stroke-width="0.8" fill="none" />
<path d="M341,243.1 C341,263.1 464.4,263.1 464.4,243.1" stroke="#6c5bb0" stroke-width="0.8" fill="none" />
<path d="M367.3,243.1 C367.3,259.8 464.4,259.8 464.4,243.1" stroke="#5565b8" stroke-width="0.8" fill="none" />
<path d="M384.6,243.1 C384.6,257.1 464.4,257.1 464.4,243.1" stroke="#4a6cc0" stroke-width="0.8" fill="none" />
<path d="M317,243.1 C317,249.1 348,249.1 348,243.1" stroke="#4a7ccc" stroke-width="0.7" fill="none" />
<path d="M321,243.1 C321,252.4 357.7,252.4 357.7,243.1" stroke="#4a6cc0" stroke-width="0.7" fill="none" />
<path d="M325,243.1 C325,255.8 384.6,255.8 384.6,243.1" stroke="#5a66b8" stroke-width="0.7" fill="none" />
<path d="M338.5,243.1 C338.5,250.4 384.6,250.4 384.6,243.1" stroke="#4a78c8" stroke-width="0.7" fill="none" />
<path d="M313,243.1 C313,247.1 330,247.1 330,243.1" stroke="#5a8ad0" stroke-width="0.7" fill="none" />
<path d="M330,243.1 C330,251.1 367.3,251.1 367.3,243.1" stroke="#5070c0" stroke-width="0.7" fill="none" />
<path d="M349,243.1 C349,247.1 367.3,247.1 367.3,243.1" stroke="#5a8ad0" stroke-width="0.7" fill="none" />
<path d="M311.9,243.1 L313,241.6 L314.1,243.1 Z" stroke="none" stroke-width="1" fill="#2c4f8a" />
<path d="M325.9,243.1 L327,240.9 L328.1,243.1 Z" stroke="none" stroke-width="1" fill="#2c4f8a" />
<path d="M327.9,243.1 L329,240.5 L330.1,243.1 Z" stroke="none" stroke-width="1" fill="#2c4f8a" />
<path d="M329.9,243.1 L331,241.1 L332.1,243.1 Z" stroke="none" stroke-width="1" fill="#2c4f8a" />
<path d="M332.9,243.1 L334,241.7 L335.1,243.1 Z" stroke="none" stroke-width="1" fill="#2c4f8a" />
<path d="M337.4,243.1 L338.5,241.5 L339.6,243.1 Z" stroke="none" stroke-width="1" fill="#2c4f8a" />
<path d="M341.9,243.1 L343,241.79999999999998 L344.1,243.1 Z" stroke="none" stroke-width="1" fill="#2c4f8a" />
<path d="M347.9,243.1 L349,241.79999999999998 L350.1,243.1 Z" stroke="none" stroke-width="1" fill="#2c4f8a" />
<path d="M354.7,243.1 L355.8,240.9 L356.90000000000003,243.1 Z" stroke="none" stroke-width="1" fill="#2c4f8a" />
<path d="M366.2,243.1 L367.3,237.9 L368.40000000000003,243.1 Z" stroke="none" stroke-width="1" fill="#2c4f8a" />
<path d="M383.5,243.1 L384.6,236.9 L385.70000000000005,243.1 Z" stroke="none" stroke-width="1" fill="#2c4f8a" />
<path d="M463.2,243.1 L463.9,216 L464.7,216 L465.4,243.1 Z" stroke="none" stroke-width="1" fill="#24406c" />
<text transform="translate(296.30,266.60) scale(0.8929,1)" font-size="6.72" text-anchor="start" font-weight="bold" font-style="normal" fill="#111" stroke="#111" stroke-width="0.12" >HiChIP</text>
<text transform="translate(296.30,274.70) scale(0.8929,1)" font-size="6.94" text-anchor="start" font-weight="normal" font-style="normal" fill="#3a3a3a" stroke="#3a3a3a" stroke-width="0.12" >H3K27ac</text>
<text transform="translate(296.30,282.70) scale(0.8929,1)" font-size="6.94" text-anchor="start" font-weight="normal" font-style="normal" fill="#3a3a3a" stroke="#3a3a3a" stroke-width="0.12" >ALL-SIL (<tspan font-style="italic">FTO</tspan><tspan font-size="3.8" dy="-2.6">intronΔ</tspan><tspan dy="2.6">)</tspan></text>
<text transform="translate(7.70,312.70) scale(1.0000,1)" font-size="10.80" text-anchor="start" font-weight="bold" font-style="normal" fill="#111" stroke="#111" stroke-width="0.12" >E</text>
<rect x="51.20" y="326.80" width="123.30" height="106.20" fill="none" stroke="#222" stroke-width="1"/>
<line x1="48.50" y1="326.80" x2="51.20" y2="326.80" stroke="#222" stroke-width="0.9" />
<line x1="48.50" y1="428.40" x2="51.20" y2="428.40" stroke="#222" stroke-width="0.9" />
<text transform="translate(45.20,329.00) scale(0.8929,1)" font-size="7.06" text-anchor="end" font-weight="normal" font-style="normal" fill="#3a3a3a" stroke="#3a3a3a" stroke-width="0.12" >5e+05</text>
<text transform="translate(45.20,430.60) scale(0.8929,1)" font-size="7.06" text-anchor="end" font-weight="normal" font-style="normal" fill="#3a3a3a" stroke="#3a3a3a" stroke-width="0.12" >0</text>
<text transform="translate(20.80,381.00) rotate(-90) scale(0.8333,1)" font-size="8.64" text-anchor="middle" fill="#3a3a3a" stroke="#3a3a3a" stroke-width="0.12">H3K27ac signal</text>
<text transform="translate(112.70,443.80) scale(0.8929,1)" font-size="7.06" text-anchor="middle" font-weight="normal" font-style="normal" fill="#3a3a3a" stroke="#3a3a3a" stroke-width="0.12" >Rank</text>
<line x1="164.80" y1="327.30" x2="164.80" y2="432.50" stroke="#3a64b0" stroke-width="0.8" />
<path d="M56.50,428.70 C56.72,428.70 57.40,428.69 57.85,428.69 C58.30,428.68 58.75,428.68 59.20,428.68 C59.65,428.67 60.09,428.67 60.54,428.67 C60.99,428.66 61.44,428.66 61.89,428.65 C62.34,428.65 62.79,428.65 63.24,428.64 C63.69,428.64 64.14,428.64 64.59,428.63 C65.04,428.63 65.49,428.62 65.94,428.62 C66.39,428.62 66.84,428.61 67.28,428.61 C67.73,428.61 68.18,428.60 68.63,428.60 C69.08,428.59 69.53,428.59 69.98,428.59 C70.43,428.58 70.88,428.58 71.33,428.57 C71.78,428.57 72.23,428.57 72.68,428.56 C73.13,428.56 73.58,428.56 74.03,428.55 C74.47,428.55 74.92,428.54 75.37,428.54 C75.82,428.54 76.27,428.53 76.72,428.53 C77.17,428.53 77.62,428.52 78.07,428.52 C78.52,428.51 78.97,428.51 79.42,428.51 C79.87,428.50 80.32,428.50 80.77,428.49 C81.22,428.49 81.66,428.49 82.11,428.48 C82.56,428.48 83.01,428.48 83.46,428.47 C83.91,428.47 84.36,428.46 84.81,428.46 C85.26,428.46 85.71,428.45 86.16,428.45 C86.61,428.45 87.06,428.44 87.51,428.44 C87.96,428.43 88.41,428.43 88.85,428.43 C89.30,428.42 89.75,428.42 90.20,428.42 C90.65,428.41 91.10,428.41 91.55,428.40 C92.00,428.40 92.45,428.40 92.90,428.39 C93.35,428.39 93.80,428.38 94.25,428.38 C94.70,428.38 95.15,428.37 95.59,428.37 C96.04,428.37 96.49,428.36 96.94,428.36 C97.39,428.35 97.84,428.35 98.29,428.35 C98.74,428.34 99.19,428.34 99.64,428.34 C100.09,428.33 100.54,428.33 100.99,428.32 C101.44,428.32 101.89,428.32 102.34,428.31 C102.78,428.31 103.23,428.31 103.68,428.30 C104.13,428.30 104.58,428.29 105.03,428.29 C105.48,428.29 105.93,428.28 106.38,428.28 C106.83,428.27 107.28,428.27 107.73,428.27 C108.18,428.26 108.63,428.26 109.08,428.26 C109.53,428.25 109.97,428.25 110.42,428.24 C110.87,428.24 111.32,428.24 111.77,428.23 C112.22,428.23 112.67,428.23 113.12,428.22 C113.57,428.22 114.02,428.21 114.47,428.21 C114.92,428.21 115.37,428.20 115.82,428.20 C116.27,428.19 116.72,428.19 117.16,428.19 C117.61,428.18 118.06,428.18 118.51,428.18 C118.96,428.17 119.41,428.17 119.86,428.16 C120.31,428.16 120.76,428.16 121.21,428.15 C121.66,428.15 122.11,428.14 122.56,428.14 C123.01,428.14 123.46,428.13 123.91,428.13 C124.35,428.12 124.80,428.12 125.25,428.12 C125.70,428.11 126.15,428.11 126.60,428.10 C127.05,428.10 127.50,428.10 127.95,428.09 C128.40,428.09 128.85,428.08 129.30,428.08 C129.75,428.07 130.20,428.07 130.65,428.06 C131.09,428.06 131.54,428.06 131.99,428.05 C132.44,428.05 132.89,428.04 133.34,428.04 C133.79,428.03 134.24,428.03 134.69,428.02 C135.14,428.02 135.59,428.01 136.04,428.00 C136.49,428.00 136.94,427.99 137.39,427.99 C137.84,427.98 138.28,427.97 138.73,427.97 C139.18,427.96 139.63,427.95 140.08,427.95 C140.53,427.94 140.98,427.93 141.43,427.92 C141.88,427.92 142.33,427.91 142.78,427.90 C143.23,427.89 143.68,427.88 144.13,427.87 C144.58,427.86 145.03,427.85 145.47,427.84 C145.92,427.82 146.37,427.81 146.82,427.80 C147.27,427.78 147.72,427.77 148.17,427.75 C148.62,427.74 149.07,427.72 149.52,427.70 C149.97,427.69 150.42,427.67 150.87,427.65 C151.32,427.62 151.77,427.60 152.22,427.58 C152.66,427.55 153.11,427.53 153.56,427.50 C154.01,427.47 154.46,427.44 154.91,427.41 C155.36,427.37 155.81,427.34 156.26,427.30 C156.71,427.26 157.16,427.22 157.61,427.17 C158.06,427.12 158.51,427.07 158.96,427.02 C159.41,426.97 159.85,426.91 160.30,426.85 C160.75,426.78 161.20,426.71 161.65,426.64 C162.10,426.57 162.56,426.54 163.00,426.40 C163.44,426.26 163.92,426.23 164.30,425.80 C164.68,425.37 165.13,424.13 165.30,423.80" stroke="#111" stroke-width="1.8" fill="none" />
<path d="M165.2,424 C167.3,421 168.2,412 168.5,396" stroke="#c8102e" stroke-width="1.0" fill="none" />
<circle cx="168.5" cy="331.6" r="0.6" fill="#c8102e"/>
<circle cx="168.5" cy="359.7" r="0.6" fill="#c8102e"/>
<circle cx="168.5" cy="373.2" r="0.6" fill="#c8102e"/>
<circle cx="168.5" cy="378" r="0.6" fill="#c8102e"/>
<circle cx="168.5" cy="381.9" r="0.6" fill="#c8102e"/>
<circle cx="168.5" cy="386.7" r="0.6" fill="#c8102e"/>
<circle cx="168.5" cy="389.6" r="0.6" fill="#c8102e"/>
<circle cx="168.5" cy="392.0" r="0.6" fill="#c8102e"/>
<text transform="translate(138.00,420.20) scale(0.8929,1)" font-size="6.94" text-anchor="start" font-weight="normal" font-style="normal" fill="#3a3a3a" stroke="#3a3a3a" stroke-width="0.12" ><tspan font-style="italic">CRNDE</tspan></text>
<line x1="161.00" y1="418.00" x2="164.50" y2="418.00" stroke="#555" stroke-width="0.6" />
<text transform="translate(189.80,312.10) scale(1.0000,1)" font-size="10.80" text-anchor="start" font-weight="bold" font-style="normal" fill="#111" stroke="#111" stroke-width="0.12" >F</text>
<text transform="translate(218.80,321.20) scale(0.8929,1)" font-size="6.83" text-anchor="start" font-weight="normal" font-style="normal" fill="#3a3a3a" stroke="#3a3a3a" stroke-width="0.12" >chr16: 54,917,777-54,939,008 (hg38)</text>
<rect x="272.00" y="325.00" width="7.00" height="110.00" fill="#fdf1e1" />
<line x1="219.20" y1="327.00" x2="219.20" y2="346.40" stroke="#222" stroke-width="1.0" />
<line x1="216.90" y1="327.00" x2="219.20" y2="327.00" stroke="#222" stroke-width="0.9" />
<line x1="216.90" y1="346.40" x2="219.20" y2="346.40" stroke="#222" stroke-width="0.9" />
<text transform="translate(212.70,329.30) scale(0.8929,1)" font-size="6.94" text-anchor="end" font-weight="normal" font-style="normal" fill="#3a3a3a" stroke="#3a3a3a" stroke-width="0.12" >159.7</text>
<text transform="translate(212.70,348.70) scale(0.8929,1)" font-size="6.94" text-anchor="end" font-weight="normal" font-style="normal" fill="#3a3a3a" stroke="#3a3a3a" stroke-width="0.12" >0</text>
<line x1="219.20" y1="356.00" x2="219.20" y2="375.20" stroke="#222" stroke-width="1.0" />
<line x1="216.90" y1="356.00" x2="219.20" y2="356.00" stroke="#222" stroke-width="0.9" />
<line x1="216.90" y1="375.20" x2="219.20" y2="375.20" stroke="#222" stroke-width="0.9" />
<text transform="translate(212.70,358.30) scale(0.8929,1)" font-size="6.94" text-anchor="end" font-weight="normal" font-style="normal" fill="#3a3a3a" stroke="#3a3a3a" stroke-width="0.12" >159.7</text>
<text transform="translate(212.70,377.50) scale(0.8929,1)" font-size="6.94" text-anchor="end" font-weight="normal" font-style="normal" fill="#3a3a3a" stroke="#3a3a3a" stroke-width="0.12" >0</text>
<line x1="219.20" y1="383.80" x2="219.20" y2="401.30" stroke="#222" stroke-width="1.0" />
<line x1="216.90" y1="383.80" x2="219.20" y2="383.80" stroke="#222" stroke-width="0.9" />
<line x1="216.90" y1="401.30" x2="219.20" y2="401.30" stroke="#222" stroke-width="0.9" />
<text transform="translate(212.70,386.10) scale(0.8929,1)" font-size="6.94" text-anchor="end" font-weight="normal" font-style="normal" fill="#3a3a3a" stroke="#3a3a3a" stroke-width="0.12" >378.5</text>
<text transform="translate(212.70,403.60) scale(0.8929,1)" font-size="6.94" text-anchor="end" font-weight="normal" font-style="normal" fill="#3a3a3a" stroke="#3a3a3a" stroke-width="0.12" >0</text>
<line x1="219.20" y1="411.30" x2="219.20" y2="430.50" stroke="#222" stroke-width="1.0" />
<line x1="216.90" y1="411.30" x2="219.20" y2="411.30" stroke="#222" stroke-width="0.9" />
<line x1="216.90" y1="430.50" x2="219.20" y2="430.50" stroke="#222" stroke-width="0.9" />
<text transform="translate(212.70,413.60) scale(0.8929,1)" font-size="6.94" text-anchor="end" font-weight="normal" font-style="normal" fill="#3a3a3a" stroke="#3a3a3a" stroke-width="0.12" >191.3</text>
<text transform="translate(212.70,432.80) scale(0.8929,1)" font-size="6.94" text-anchor="end" font-weight="normal" font-style="normal" fill="#3a3a3a" stroke="#3a3a3a" stroke-width="0.12" >0</text>
<line x1="226.00" y1="346.40" x2="323.50" y2="346.40" stroke="#8fa6c8" stroke-width="0.6" stroke-dasharray="2,1.5"/>
<path d="M230.5,346.4 L232,345.4 L233.5,346.4 Z" stroke="none" stroke-width="1" fill="#1f3a68" />
<path d="M245.5,346.4 L247,345.4 L248.5,346.4 Z" stroke="none" stroke-width="1" fill="#1f3a68" />
<path d="M256.5,346.4 L258,345.4 L259.5,346.4 Z" stroke="none" stroke-width="1" fill="#1f3a68" />
<path d="M298.5,346.4 L300,345.4 L301.5,346.4 Z" stroke="none" stroke-width="1" fill="#1f3a68" />
<path d="M306.5,346.4 L308,345.4 L309.5,346.4 Z" stroke="none" stroke-width="1" fill="#1f3a68" />
<path d="M316.5,346.4 L318,345.4 L319.5,346.4 Z" stroke="none" stroke-width="1" fill="#1f3a68" />
<path d="M262,346.4 L262.00,345.90 L265.00,345.45 L268.00,345.12 L270.00,344.89 L272.00,344.44 L273.50,343.44 L274.60,340.30 L275.50,339.63 L276.50,337.84 L277.70,332.46 L278.60,336.94 L279.40,341.42 L280.40,343.66 L281.50,344.44 L283.00,342.99 L284.20,338.62 L285.20,342.99 L286.50,344.78 L288.00,345.45 L290.00,345.90 L290,346.4 Z" stroke="none" stroke-width="1" fill="#9fb4d6" />
<path d="M262,346.4 L262.00,346.40 L265.00,346.00 L268.00,345.70 L270.00,345.50 L272.00,345.10 L273.50,344.20 L274.60,341.40 L275.50,340.80 L276.50,339.20 L277.70,334.40 L278.60,338.40 L279.40,342.40 L280.40,344.40 L281.50,345.10 L283.00,343.80 L284.20,339.90 L285.20,343.80 L286.50,345.40 L288.00,346.00 L290.00,346.40 L290,346.4 Z" stroke="none" stroke-width="1" fill="#1f3a68" />
<line x1="226.00" y1="375.20" x2="323.50" y2="375.20" stroke="#8fa6c8" stroke-width="0.6" stroke-dasharray="2,1.5"/>
<path d="M230.5,375.2 L232,374.2 L233.5,375.2 Z" stroke="none" stroke-width="1" fill="#1f3a68" />
<path d="M245.5,375.2 L247,374.2 L248.5,375.2 Z" stroke="none" stroke-width="1" fill="#1f3a68" />
<path d="M256.5,375.2 L258,374.2 L259.5,375.2 Z" stroke="none" stroke-width="1" fill="#1f3a68" />
<path d="M298.5,375.2 L300,374.2 L301.5,375.2 Z" stroke="none" stroke-width="1" fill="#1f3a68" />
<path d="M306.5,375.2 L308,374.2 L309.5,375.2 Z" stroke="none" stroke-width="1" fill="#1f3a68" />
<path d="M316.5,375.2 L318,374.2 L319.5,375.2 Z" stroke="none" stroke-width="1" fill="#1f3a68" />
<path d="M262,375.2 L262.00,374.70 L265.00,374.25 L268.00,373.92 L270.00,373.69 L272.00,373.24 L273.50,372.24 L274.60,369.10 L275.50,368.43 L276.50,366.64 L277.70,361.26 L278.60,365.74 L279.40,370.22 L280.40,372.46 L281.50,373.24 L283.00,371.79 L284.20,367.42 L285.20,371.79 L286.50,373.58 L288.00,374.25 L290.00,374.70 L290,375.2 Z" stroke="none" stroke-width="1" fill="#9fb4d6" />
<path d="M262,375.2 L262.00,375.20 L265.00,374.80 L268.00,374.50 L270.00,374.30 L272.00,373.90 L273.50,373.00 L274.60,370.20 L275.50,369.60 L276.50,368.00 L277.70,363.20 L278.60,367.20 L279.40,371.20 L280.40,373.20 L281.50,373.90 L283.00,372.60 L284.20,368.70 L285.20,372.60 L286.50,374.20 L288.00,374.80 L290.00,375.20 L290,375.2 Z" stroke="none" stroke-width="1" fill="#1f3a68" />
<line x1="226.00" y1="401.50" x2="323.50" y2="401.50" stroke="#eaa7bd" stroke-width="0.6" stroke-dasharray="2,1.5"/>
<path d="M239.5,401.5 L239.50,401.50 L241.00,400.50 L242.00,396.50 L242.70,395.30 L243.50,397.50 L244.50,400.70 L246.00,401.50 L246,401.5 Z" stroke="none" stroke-width="1" fill="#d42a5c" />
<path d="M248.5,401.5 L248.50,401.50 L250.20,399.50 L252.00,401.50 L252,401.5 Z" stroke="none" stroke-width="1" fill="#d42a5c" />
<path d="M265.5,401.5 L265.50,401.50 L267.70,399.50 L269.50,400.90 L271.00,400.50 L273.00,399.00 L274.30,395.50 L275.40,384.70 L276.40,393.50 L277.50,398.50 L279.00,400.50 L281.00,401.20 L283.00,401.30 L284.30,400.50 L286.00,401.50 L286,401.5 Z" stroke="none" stroke-width="1" fill="#d42a5c" />
<path d="M223.5,401.5 L225,400.6 L226.5,401.5 Z" stroke="none" stroke-width="1" fill="#d42a5c" />
<path d="M298.5,401.5 L300,400.6 L301.5,401.5 Z" stroke="none" stroke-width="1" fill="#d42a5c" />
<path d="M308.5,401.5 L310,400.6 L311.5,401.5 Z" stroke="none" stroke-width="1" fill="#d42a5c" />
<line x1="226.00" y1="430.60" x2="323.50" y2="430.60" stroke="#9bd39b" stroke-width="0.6" stroke-dasharray="2,1.5"/>
<path d="M230,430.6 L230.00,430.60 L233.50,430.30 L238.30,429.00 L240.80,420.40 L242.10,424.20 L244.00,421.30 L246.00,423.30 L248.80,417.50 L250.80,422.30 L252.70,424.20 L255.60,427.10 L257.50,430.00 L259.40,426.20 L262.30,424.20 L265.20,419.40 L267.70,417.50 L270.40,415.60 L271.90,416.50 L272.90,421.30 L274.80,415.60 L276.20,420.40 L277.30,426.20 L278.70,416.50 L281.50,414.60 L283.10,423.30 L285.40,419.40 L288.30,422.30 L290.20,427.10 L292.10,430.40 L293.00,430.60 L293,430.6 Z" stroke="none" stroke-width="1" fill="#3aa53a" />
<path d="M306,430.6 L306.00,430.60 L308.50,429.60 L310.40,428.10 L312.50,429.60 L315.00,430.60 L315,430.6 Z" stroke="none" stroke-width="1" fill="#3aa53a" />
<text transform="translate(308.60,332.30) scale(0.8929,1)" font-size="6.72" text-anchor="middle" font-weight="normal" font-style="normal" fill="#3a3a3a" stroke="#3a3a3a" stroke-width="0.12" >5 kb</text>
<line x1="297.30" y1="334.60" x2="319.60" y2="334.60" stroke="#222" stroke-width="0.9" />
<text transform="translate(328.70,335.90) scale(0.8929,1)" font-size="7.11" text-anchor="start" font-weight="bold" font-style="normal" fill="#111" stroke="#111" stroke-width="0.12" >ATAC</text>
<text transform="translate(328.70,343.20) scale(0.8929,1)" font-size="7.11" text-anchor="start" font-weight="normal" font-style="normal" fill="#3a3a3a" stroke="#3a3a3a" stroke-width="0.12" ><tspan font-style="italic">FTO</tspan> wild-type</text>
<text transform="translate(328.70,358.50) scale(0.8929,1)" font-size="7.11" text-anchor="start" font-weight="bold" font-style="normal" fill="#111" stroke="#111" stroke-width="0.12" >ATAC</text>
<text transform="translate(328.70,366.00) scale(0.8929,1)" font-size="7.11" text-anchor="start" font-weight="normal" font-style="normal" fill="#3a3a3a" stroke="#3a3a3a" stroke-width="0.12" ><tspan font-style="italic">FTO</tspan> intron 8</text>
<text transform="translate(328.70,373.50) scale(0.8929,1)" font-size="7.11" text-anchor="start" font-weight="normal" font-style="normal" fill="#3a3a3a" stroke="#3a3a3a" stroke-width="0.12" >CTCF site deletion</text>
<text transform="translate(328.70,393.80) scale(0.8929,1)" font-size="7.11" text-anchor="start" font-weight="bold" font-style="normal" fill="#111" stroke="#111" stroke-width="0.12" >MYB</text>
<text transform="translate(328.70,401.40) scale(0.8929,1)" font-size="7.11" text-anchor="start" font-weight="normal" font-style="normal" fill="#3a3a3a" stroke="#3a3a3a" stroke-width="0.12" ><tspan font-style="italic">FTO</tspan> wild-type</text>
<text transform="translate(328.70,422.80) scale(0.8929,1)" font-size="7.11" text-anchor="start" font-weight="bold" font-style="normal" fill="#111" stroke="#111" stroke-width="0.12" >H3K27ac</text>
<text transform="translate(328.70,430.40) scale(0.8929,1)" font-size="7.11" text-anchor="start" font-weight="normal" font-style="normal" fill="#3a3a3a" stroke="#3a3a3a" stroke-width="0.12" ><tspan font-style="italic">FTO</tspan> wild-type</text>
<text transform="translate(252.50,439.40) scale(0.8929,1)" font-size="6.94" text-anchor="start" font-weight="normal" font-style="normal" fill="#3a3a3a" stroke="#3a3a3a" stroke-width="0.12" ><tspan font-style="italic">CRNDE</tspan></text>
<line x1="225.20" y1="442.50" x2="259.80" y2="442.50" stroke="#1f3a78" stroke-width="1.9" />
<line x1="259.80" y1="442.50" x2="276.20" y2="442.50" stroke="#1f3a78" stroke-width="0.8" />
<rect x="265.80" y="441.30" width="6.10" height="2.40" fill="#1f3a78" />
<path d="M275.6,444.5 L275.6,446.8 L273.4,446.8" stroke="#333" stroke-width="0.6" fill="none" />
<line x1="285.00" y1="442.40" x2="301.30" y2="442.40" stroke="#1f4a88" stroke-width="0.9" />
<path d="M284.6,442.4 L287.8,440.2 L287.8,444.6 Z" stroke="none" stroke-width="1" fill="#1f4a88" />
<rect x="289.30" y="440.90" width="1.80" height="3.00" fill="#1f4a88" />
<rect x="292.20" y="440.70" width="2.20" height="3.40" fill="#1f4a88" />
<rect x="295.20" y="440.70" width="4.20" height="3.40" fill="#1f4a88" />
<path d="M299.4,440.7 L301.6,442.4 L299.4,444.1 Z" stroke="none" stroke-width="1" fill="#1f4a88" />
<path d="M286.6,440.3 L286.6,437.8 L290,437.8" stroke="#333" stroke-width="0.6" fill="none" />
<text transform="translate(286.60,451.70) scale(0.8929,1)" font-size="6.72" text-anchor="start" font-weight="normal" font-style="normal" fill="#3a3a3a" stroke="#3a3a3a" stroke-width="0.12" ><tspan font-style="italic">IRX5</tspan></text>
<line x1="275.50" y1="448.70" x2="269.80" y2="459.50" stroke="#444" stroke-width="0.6" />
<line x1="275.50" y1="448.70" x2="281.90" y2="459.50" stroke="#444" stroke-width="0.6" />
<path d="M268.9,462.3 L270.7,460.9 L277.4,468.6 L275.8,470.2 Z" stroke="none" stroke-width="1" fill="#111" />
<path d="M282.8,462.3 L281.0,460.9 L274.3,468.6 L275.9,470.2 Z" stroke="none" stroke-width="1" fill="#111" />
<circle cx="271.8" cy="472.6" r="2.3" fill="none" stroke="#111" stroke-width="1.5"/>
<circle cx="279.6" cy="472.6" r="2.3" fill="none" stroke="#111" stroke-width="1.5"/>
<text transform="translate(275.00,484.30) scale(0.8929,1)" font-size="6.61" text-anchor="middle" font-weight="normal" font-style="italic" fill="#3a3a3a" stroke="#3a3a3a" stroke-width="0.12" >CRISPR/Cas9</text>
<text transform="translate(398.30,312.60) scale(1.0000,1)" font-size="10.80" text-anchor="start" font-weight="bold" font-style="normal" fill="#111" stroke="#111" stroke-width="0.12" >G</text>
<line x1="434.80" y1="332.50" x2="434.80" y2="428.40" stroke="#222" stroke-width="1.1" />
<line x1="432.50" y1="428.40" x2="434.80" y2="428.40" stroke="#222" stroke-width="1" />
<text transform="translate(428.60,430.70) scale(0.8929,1)" font-size="7.28" text-anchor="end" font-weight="normal" font-style="normal" fill="#3a3a3a" stroke="#3a3a3a" stroke-width="0.12" >0.0</text>
<line x1="432.50" y1="404.70" x2="434.80" y2="404.70" stroke="#222" stroke-width="1" />
<text transform="translate(428.60,407.00) scale(0.8929,1)" font-size="7.28" text-anchor="end" font-weight="normal" font-style="normal" fill="#3a3a3a" stroke="#3a3a3a" stroke-width="0.12" >0.2</text>
<line x1="432.50" y1="381.00" x2="434.80" y2="381.00" stroke="#222" stroke-width="1" />
<text transform="translate(428.60,383.30) scale(0.8929,1)" font-size="7.28" text-anchor="end" font-weight="normal" font-style="normal" fill="#3a3a3a" stroke="#3a3a3a" stroke-width="0.12" >0.4</text>
<line x1="432.50" y1="357.30" x2="434.80" y2="357.30" stroke="#222" stroke-width="1" />
<text transform="translate(428.60,359.60) scale(0.8929,1)" font-size="7.28" text-anchor="end" font-weight="normal" font-style="normal" fill="#3a3a3a" stroke="#3a3a3a" stroke-width="0.12" >0.6</text>
<line x1="432.50" y1="333.60" x2="434.80" y2="333.60" stroke="#222" stroke-width="1" />
<text transform="translate(428.60,335.90) scale(0.8929,1)" font-size="7.28" text-anchor="end" font-weight="normal" font-style="normal" fill="#3a3a3a" stroke="#3a3a3a" stroke-width="0.12" >0.8</text>
<line x1="434.80" y1="428.40" x2="488.70" y2="428.40" stroke="#222" stroke-width="1.1" />
<rect x="442.90" y="378.90" width="15.10" height="49.50" fill="#136b4c" />
<rect x="465.70" y="401.25" width="15.20" height="27.15" fill="#c8102e" />
<line x1="450.50" y1="378.90" x2="450.50" y2="372.10" stroke="#333" stroke-width="0.9" />
<line x1="447.30" y1="372.10" x2="453.60" y2="372.10" stroke="#333" stroke-width="0.9" />
<line x1="473.30" y1="401.20" x2="473.30" y2="397.70" stroke="#333" stroke-width="0.9" />
<line x1="469.50" y1="397.70" x2="477.00" y2="397.70" stroke="#333" stroke-width="0.9" />
<line x1="450.70" y1="428.40" x2="450.70" y2="430.70" stroke="#222" stroke-width="0.9" />
<line x1="473.10" y1="428.40" x2="473.10" y2="430.70" stroke="#222" stroke-width="0.9" />
<line x1="450.90" y1="336.60" x2="473.20" y2="336.60" stroke="#333" stroke-width="0.9" />
<text transform="translate(461.80,336.60) scale(1.0000,1)" font-size="7.40" text-anchor="middle" font-weight="normal" font-style="normal" fill="#3a3a3a" stroke="#3a3a3a" stroke-width="0.12" >**</text>
<circle cx="448.2" cy="340.9" r="1.25" fill="#888"/>
<circle cx="452.1" cy="342.3" r="1.25" fill="#888"/>
<circle cx="450.5" cy="353.6" r="1.25" fill="#888"/>
<circle cx="473.2" cy="382.5" r="1.25" fill="#888"/>
<circle cx="477.1" cy="381.0" r="1.25" fill="#888"/>
<circle cx="473.2" cy="390.2" r="1.25" fill="#888"/>
<circle cx="450.5" cy="372.7" r="0.9" fill="#ddd"/>
<circle cx="448" cy="382.7" r="0.9" fill="#ddd"/>
<circle cx="452.3" cy="383" r="0.9" fill="#ddd"/>
<circle cx="450.5" cy="386.4" r="0.9" fill="#ddd"/>
<circle cx="450.5" cy="393.6" r="0.9" fill="#ddd"/>
<circle cx="448.4" cy="400.9" r="0.9" fill="#ddd"/>
<circle cx="452.9" cy="400.9" r="0.9" fill="#ddd"/>
<circle cx="450.5" cy="413.6" r="0.9" fill="#ddd"/>
<circle cx="473.2" cy="398.6" r="0.9" fill="#ddd"/>
<circle cx="470.5" cy="407.5" r="0.9" fill="#ddd"/>
<circle cx="474.2" cy="407.5" r="0.9" fill="#ddd"/>
<circle cx="477.2" cy="406.4" r="0.9" fill="#ddd"/>
<circle cx="470.2" cy="412.8" r="0.9" fill="#ddd"/>
<circle cx="477.2" cy="412.8" r="0.9" fill="#ddd"/>
<circle cx="473.5" cy="405" r="0.9" fill="#ddd"/>
<text transform="translate(415.20,383.00) rotate(-90) scale(0.8333,1)" font-size="8.40" text-anchor="middle" fill="#3a3a3a" stroke="#3a3a3a" stroke-width="0.12"><tspan font-style="italic">IRX3</tspan> expression</text>
<text transform="translate(451.50,434.50) rotate(-45) scale(0.8929,1)" font-size="7.17" text-anchor="end" fill="#3a3a3a" stroke="#3a3a3a" stroke-width="0.12">CRNDE wt</text>
<text transform="translate(473.90,434.50) rotate(-45) scale(0.8929,1)" font-size="7.17" text-anchor="end" fill="#3a3a3a" stroke="#3a3a3a" stroke-width="0.12">CRNDE deletion</text>
<text transform="translate(7.50,510.80) scale(1.0000,1)" font-size="10.80" text-anchor="start" font-weight="bold" font-style="normal" fill="#111" stroke="#111" stroke-width="0.12" >H</text>
<text transform="translate(25.20,519.50) scale(0.8929,1)" font-size="7.62" text-anchor="start" font-weight="bold" font-style="normal" fill="#111" stroke="#111" stroke-width="0.12" >'Promoter tether'</text>
<text transform="translate(25.20,527.90) scale(0.8929,1)" font-size="7.28" text-anchor="start" font-weight="normal" font-style="normal" fill="#3a3a3a" stroke="#3a3a3a" stroke-width="0.12" >Sequesters <tspan font-style="italic">IRX3</tspan> promoter</text>
<text transform="translate(25.20,535.50) scale(0.8929,1)" font-size="7.39" text-anchor="start" font-weight="normal" font-style="normal" fill="#3a3a3a" stroke="#3a3a3a" stroke-width="0.12" >to inert genomic region</text>
<circle cx="118.5" cy="573.8" r="39" fill="#f9dcd4"/>
<path d="M93.70,563.90 C93.82,562.22 93.55,557.17 94.40,553.80 C95.25,550.43 97.12,545.68 98.80,543.70 C100.48,541.72 102.58,541.67 104.50,541.90 C106.42,542.13 109.05,543.12 110.30,545.10 C111.55,547.08 112.72,550.20 112.00,553.80 C111.28,557.40 109.50,562.67 106.00,566.70 C102.50,570.73 93.50,576.12 91.00,578.00" stroke="#d6267c" stroke-width="0.9" fill="none" />
<path d="M90.00,578.50 C93.15,575.08 104.57,562.60 108.90,558.00 C113.23,553.40 113.60,552.45 116.00,550.90 C118.40,549.35 121.00,548.70 123.30,548.70 C125.60,548.70 128.35,549.35 129.80,550.90 C131.25,552.45 132.37,555.48 132.00,558.00 C131.63,560.52 130.27,563.47 127.60,566.00 C124.93,568.53 122.10,570.87 116.00,573.20 C109.90,575.53 95.17,578.87 91.00,580.00" stroke="#d6267c" stroke-width="0.9" fill="none" />
<path d="M91.00,581.00 C93.98,579.70 104.00,575.22 108.90,573.20 C113.80,571.18 117.52,569.62 120.40,568.90 C123.28,568.18 124.77,567.58 126.20,568.90 C127.63,570.22 129.00,574.28 129.00,576.80 C129.00,579.32 129.08,582.43 126.20,584.00 C123.32,585.57 117.40,586.03 111.70,586.20 C106.00,586.37 95.28,585.20 92.00,585.00" stroke="#d6267c" stroke-width="0.9" fill="none" />
<path d="M92.00,584.50 C94.82,583.95 102.97,582.23 108.90,581.20 C114.83,580.17 122.32,578.55 127.60,578.30 C132.88,578.05 137.35,578.25 140.60,579.70 C143.85,581.15 146.62,584.58 147.10,587.00 C147.58,589.42 145.55,592.53 143.50,594.20 C141.45,595.87 138.17,596.65 134.80,597.00 C131.43,597.35 127.15,596.65 123.30,596.30 C119.45,595.95 113.63,595.13 111.70,594.90" stroke="#d6267c" stroke-width="0.9" fill="none" />
<path d="M95,590 L101.6,592.7" stroke="#d6267c" stroke-width="0.9" fill="none" />
<path d="M32,580.6 C50,580.4 70,579.8 83,578.3" stroke="#f08a1c" stroke-width="2.3" fill="none" />
<path d="M87,573 C90,570 92.5,567 93.9,563.5" stroke="#f08a1c" stroke-width="1.8" fill="none" />
<line x1="18.70" y1="580.50" x2="32.50" y2="580.50" stroke="#222" stroke-width="0.9" />
<path d="M33,579.3 L33,576.2 L37.2,576.2" stroke="#222" stroke-width="0.8" fill="none" />
<path d="M36.8,575.0 L38.8,576.2 L36.8,577.4 Z" stroke="none" stroke-width="1" fill="#222" />
<text transform="translate(38.80,578.90) scale(0.8929,1)" font-size="7.28" text-anchor="start" font-weight="normal" font-style="normal" fill="#3a3a3a" stroke="#3a3a3a" stroke-width="0.12" ><tspan font-style="italic">FTO</tspan></text>
<path d="M89.00,585.00 C87.17,584.90 81.37,584.22 78.00,584.40 C74.63,584.58 71.48,585.13 68.80,586.10 C66.12,587.07 63.82,588.65 61.90,590.20 C59.98,591.75 58.07,594.53 57.30,595.40" stroke="#d6267c" stroke-width="0.9" fill="none" />
<path d="M57.30,595.40 C56.82,596.55 54.98,599.80 54.40,602.30 C53.82,604.80 53.62,607.52 53.80,610.40 C53.98,613.28 54.53,616.17 55.50,619.60 C56.47,623.03 57.68,627.52 59.60,631.00 C61.52,634.48 64.35,637.87 67.00,640.50 C69.65,643.13 73.03,645.15 75.50,646.80 C77.97,648.45 80.75,649.80 81.80,650.40" stroke="#222" stroke-width="0.9" fill="none" />
<path d="M58.00,626.00 C59.33,626.83 63.17,629.75 66.00,631.00 C68.83,632.25 72.17,633.00 75.00,633.50 C77.83,634.00 81.67,633.92 83.00,634.00" stroke="#ccc" stroke-width="0.7" fill="none" />
<path d="M59.00,629.00 C60.17,630.17 63.50,634.00 66.00,636.00 C68.50,638.00 71.33,639.83 74.00,641.00 C76.67,642.17 80.67,642.67 82.00,643.00" stroke="#aaa" stroke-width="0.8" fill="none" />
<path d="M101.6,592.8 L111.7,595" stroke="#2a78c2" stroke-width="2.0" fill="none" />
<path d="M101.6,594.2 L101.6,597.8 L105.3,597.8" stroke="#222" stroke-width="0.7" fill="none" />
<text transform="translate(100.40,605.10) scale(0.8929,1)" font-size="6.94" text-anchor="start" font-weight="normal" font-style="normal" fill="#3a3a3a" stroke="#3a3a3a" stroke-width="0.12" ><tspan font-style="italic">IRX3</tspan></text>
<ellipse cx="86.1" cy="576.5" rx="3.9" ry="5.5" fill="#bccf3c" stroke="#8fa52a" stroke-width="0.6" transform="rotate(-25 86.1 576.5)"/>
<path d="M85.1,573.5 L87.6,577.5 M84.3,576.5 L86.1,579.5" stroke="#e8f07a" stroke-width="0.5" fill="none"/>
<ellipse cx="92" cy="587.2" rx="3.9" ry="5.5" fill="#bccf3c" stroke="#8fa52a" stroke-width="0.6" transform="rotate(-25 92 587.2)"/>
<path d="M91,584.2 L93.5,588.2 M90.2,587.2 L92,590.2" stroke="#e8f07a" stroke-width="0.5" fill="none"/>
<path d="M121,611 C124,625 126,640 127.3,661" stroke="#888" stroke-width="0.6" fill="none" stroke-dasharray="1,1.6"/>
<circle cx="127.4" cy="661.6" r="1.1" fill="#111"/>
<rect x="84.50" y="629.40" width="37.10" height="7.40" fill="#fdf9ee" />
<text transform="translate(87.50,635.30) scale(0.8929,1)" font-size="6.61" text-anchor="start" font-weight="bold" font-style="italic" fill="#f3ecd8" stroke="#f3ecd8" stroke-width="0.12" >CRNDE-SE</text>
<rect x="82.40" y="639.50" width="41.30" height="7.90" fill="#fbefc8" />
<text transform="translate(86.50,645.80) scale(0.8929,1)" font-size="6.61" text-anchor="start" font-weight="bold" font-style="italic" fill="#d8c698" stroke="#d8c698" stroke-width="0.12" >CRNDE-SE</text>
<g transform="rotate(10.5 101.2 654)">
<rect x="81.20" y="650.10" width="40.00" height="7.80" fill="#f7d31c" />
<text transform="translate(83.80,656.50) scale(0.8929,1)" font-size="6.83" text-anchor="start" font-weight="bold" font-style="italic" fill="#222" stroke="#222" stroke-width="0.12" >CRNDE-SE</text>
</g>
<path d="M119.4,636.9 L123.1,636.9 L123.1,638.6" stroke="#bbb" stroke-width="0.6" fill="none" />
<path d="M119.8,647 L123.4,647 L123.4,648.8" stroke="#aaa" stroke-width="0.6" fill="none" />
<path d="M118.4,651.8 L121.6,652.4 L121.9,655.9" stroke="#222" stroke-width="0.8" fill="none" />
<text transform="translate(180.30,646.20) scale(0.8929,1)" font-size="7.39" text-anchor="middle" font-weight="normal" font-style="normal" fill="#3a3a3a" stroke="#3a3a3a" stroke-width="0.12" >Intermittent enhancer-promoter</text>
<text transform="translate(180.30,653.90) scale(0.8929,1)" font-size="7.39" text-anchor="middle" font-weight="normal" font-style="normal" fill="#3a3a3a" stroke="#3a3a3a" stroke-width="0.12" >interactions with</text>
<text transform="translate(180.30,661.60) scale(0.8929,1)" font-size="7.39" text-anchor="middle" font-weight="normal" font-style="normal" fill="#3a3a3a" stroke="#3a3a3a" stroke-width="0.12" >low transcriptional output</text>
<line x1="182.00" y1="587.00" x2="250.00" y2="587.00" stroke="#111" stroke-width="1.0" />
<path d="M249,584 L255.5,587 L249,590 Z" stroke="none" stroke-width="1" fill="#111" />
<path d="M253.8,560.4 L300,547" stroke="#f6c9a0" stroke-width="1.6" fill="none" opacity="0.8"/>
<text transform="translate(270.5,551.5) rotate(-16)" font-size="6.2" fill="#ddd" font-style="italic">FTO</text>
<line x1="252.30" y1="534.70" x2="265.40" y2="536.50" stroke="#222" stroke-width="0.9" />
<path d="M265.4,536.8 L318,543.7" stroke="#f08a1c" stroke-width="2.2" fill="none" />
<path d="M266.5,536.2 L266.5,533.2 L270.2,533.7" stroke="#222" stroke-width="0.7" fill="none" />
<text transform="translate(272.8,536.5) rotate(8)" font-size="6.4" fill="#3a3a3a" font-style="italic">FTO</text>
<path d="M302.7,544.2 L304.6,541.2 L306.5,544.2 Z" stroke="none" stroke-width="1" fill="#c8102e" />
<line x1="304.60" y1="544.00" x2="304.60" y2="556.50" stroke="#d6324a" stroke-width="0.7" />
<text transform="translate(284.20,564.00) scale(0.8929,1)" font-size="7.17" text-anchor="start" font-weight="normal" font-style="normal" fill="#d8344c" stroke="#d8344c" stroke-width="0.12" >CTCF site deletion results in</text>
<text transform="translate(284.20,572.00) scale(0.8929,1)" font-size="7.17" text-anchor="start" font-weight="normal" font-style="normal" fill="#d8344c" stroke="#d8344c" stroke-width="0.12" >loss of 'promoter tether'</text>
<circle cx="347.5" cy="601.8" r="26.2" fill="#e6eed8"/>
<path d="M318,543.7 L380.6,551.2 C386,551.8 392.5,551.5 390.7,549 C389,545.5 384,544.5 381.8,546.5 C380,548.5 381,556 382.5,565 C384,575 378,583 366,589 C362,591 355,592.3 345,592.3 L298.8,592.3 C291,592.3 291,602.5 298.8,602.5 L330,602.5 M365,599.7 L389.6,599.5" stroke="#d6267c" stroke-width="0.9" fill="none" />
<ellipse cx="310.4" cy="592.3" rx="5.8" ry="3.4" fill="#bccf3c" stroke="#8fa52a" stroke-width="0.5"/>
<rect x="326.20" y="594.20" width="40.40" height="10.00" fill="#f7d31c" />
<text transform="translate(328.30,602.40) scale(0.8929,1)" font-size="6.61" text-anchor="start" font-weight="bold" font-style="italic" fill="#2a2a2a" stroke="#2a2a2a" stroke-width="0.12" >CRNDE-SE</text>
<rect x="336.60" y="592.00" width="9.20" height="2.20" fill="#2a78c2" />
<text transform="translate(336.60,590.70) scale(0.8929,1)" font-size="7.17" text-anchor="start" font-weight="normal" font-style="normal" fill="#222" stroke="#222" stroke-width="0.12" ><tspan font-style="italic">IRX3</tspan></text>
<path d="M361.2,596.5 L361.2,592 L365.5,592 L365.5,595" stroke="#222" stroke-width="0.7" fill="none" />
<text transform="translate(353.20,639.20) scale(0.8929,1)" font-size="7.17" text-anchor="middle" font-weight="normal" font-style="normal" fill="#d8344c" stroke="#d8344c" stroke-width="0.12" ><tspan font-style="italic">IRX3</tspan> promoter hijacks</text>
<text transform="translate(353.20,647.00) scale(0.8929,1)" font-size="7.17" text-anchor="middle" font-weight="normal" font-style="normal" fill="#d8344c" stroke="#d8344c" stroke-width="0.12" >enhancer resulting in</text>
<text transform="translate(353.20,654.80) scale(0.8929,1)" font-size="7.17" text-anchor="middle" font-weight="normal" font-style="normal" fill="#d8344c" stroke="#d8344c" stroke-width="0.12" >transcriptional activation</text>
<rect x="0.5" y="0.5" width="519" height="671" fill="none" stroke="#4a4a4a" stroke-width="1"/>
</svg>
</body></html>
